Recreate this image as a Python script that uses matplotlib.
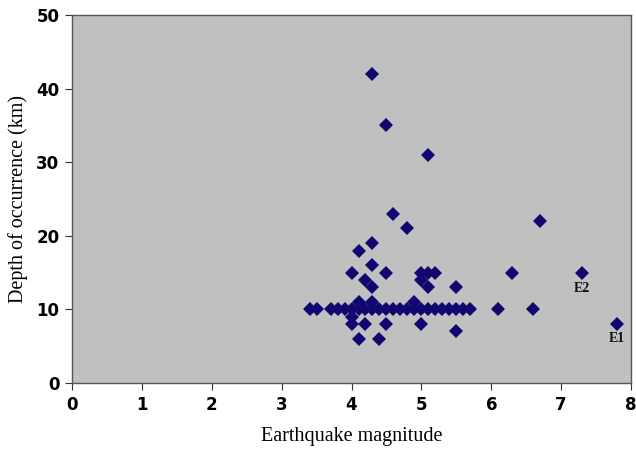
import matplotlib
matplotlib.use("Agg")
import matplotlib.pyplot as plt

# Earthquake magnitude / depth (km)
row_mag = [3.4, 3.5, 3.7, 3.8, 3.9, 4.0, 4.1, 4.2, 4.3, 4.4, 4.5, 4.6, 4.7, 4.8,
           4.9, 5.0, 5.1, 5.2, 5.3, 5.4, 5.5, 5.6, 5.7, 6.1, 6.6]
row_depth = [10] * len(row_mag)

other_mag = [4.3, 4.5, 5.1, 4.6, 4.8, 6.7, 4.3, 4.1, 4.0, 4.3, 4.5, 5.0, 5.1, 5.2,
             6.3, 7.3, 4.2, 5.0, 4.3, 5.1, 5.5, 4.1, 4.3, 4.9, 4.0, 4.0, 4.2,
             4.5, 5.0, 5.5, 4.1, 4.4, 7.8]
other_depth = [42, 35, 31, 23, 21, 22, 19, 18, 15, 16, 15, 15, 15, 15,
               15, 15, 14, 14, 13, 13, 13, 11, 11, 11, 9, 8, 8,
               8, 8, 7, 6, 6, 8]

labels = ["E2", "E1"]
label_mag = [7.3, 7.8]
label_depth = [12.8, 6.0]

fig = plt.figure(figsize=(6.36, 4.55), dpi=100)
ax = fig.add_axes([0.1132, 0.1582, 0.8790, 0.8088])
ax.set_facecolor("#C0C0C0")

mk = dict(marker="D", linestyle="none", color="#100870", markersize=6.8,
          markeredgewidth=0)
ax.plot(row_mag, row_depth, **mk)
ax.plot(other_mag, other_depth, **mk)

for t, x, y in zip(labels, label_mag, label_depth):
    ax.text(x, y, t, ha="center", va="center", fontsize=10, fontweight="bold",
            family="Liberation Serif", color="#111111")

ax.set_xlim(0, 8)
ax.set_ylim(0, 50)
ax.set_xticks(range(0, 9))
ax.set_yticks(range(0, 51, 10))
for lab in ax.get_xticklabels() + ax.get_yticklabels():
    lab.set_fontweight("bold")
    lab.set_fontsize(12)
    lab.set_family("DejaVu Sans")
ax.tick_params(direction="out", length=5, width=0.8, colors="#333333",
               labelcolor="black", pad=4)
for s in ax.spines.values():
    s.set_color("#555555")
    s.set_linewidth(1.0)

ax.set_xlabel("Earthquake magnitude", family="Liberation Serif", fontsize=14.5,
              labelpad=10)
ax.set_ylabel("Depth of occurrence (km)", family="Liberation Serif",
              fontsize=14.5, labelpad=6)

fig.savefig("out.png", dpi=100, facecolor="white")
